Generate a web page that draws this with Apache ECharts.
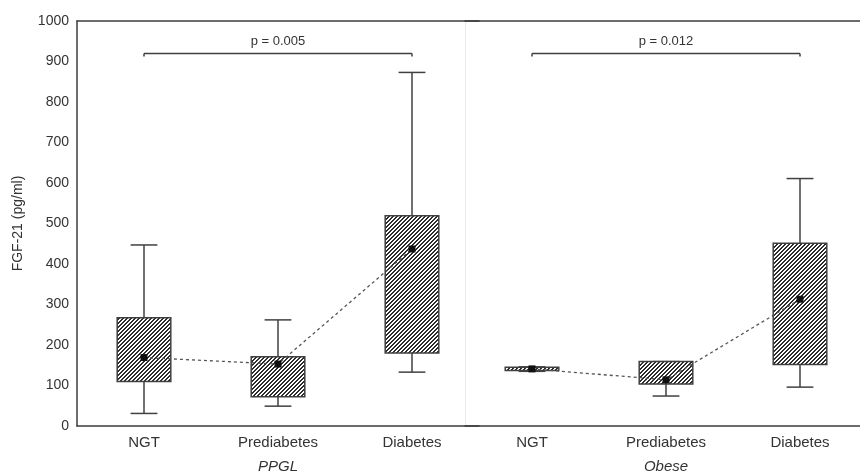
<!DOCTYPE html>
<html>
<head>
<meta charset="utf-8">
<script src="https://cdn.jsdelivr.net/npm/echarts@6/dist/echarts.min.js"></script>
<style>html,body{margin:0;padding:0;background:#fff}#c{width:860px;height:474px}</style>
</head>
<body>
<div id="c"></div>
<script>
const categories = ['NGT', 'Prediabetes', 'Diabetes'];
const groupNames = ['PPGL', 'Obese'];
const yTicks = [0, 100, 200, 300, 400, 500, 600, 700, 800, 900, 1000];
const yAxisName = 'FGF-21 (pg/ml)';

const ppglWhiskerLow  = [31, 49, 133];
const ppglBoxLow      = [110, 72, 180];
const ppglBoxHigh     = [267, 171, 519];
const ppglWhiskerHigh = [447, 262, 873];
const ppglMean        = [169, 153, 437];

const obeseWhiskerLow  = [135, 74, 96];
const obeseBoxLow      = [137, 104, 152];
const obeseBoxHigh     = [145, 159, 451];
const obeseWhiskerHigh = [146, 159, 611];
const obeseMean        = [141, 114, 313];

const pLabels = ['p = 0.005', 'p = 0.012'];
const bracketLevel = [920, 920];
const bracketFrom = ['NGT', 'NGT'];
const bracketTo = ['Diabetes', 'Diabetes'];

// hatch pattern
const hc = document.createElement('canvas');
hc.width = 4; hc.height = 4;
const hx = hc.getContext('2d');
hx.fillStyle = '#ffffff'; hx.fillRect(0, 0, 4, 4);
hx.fillStyle = '#2e2e2e';
for (let x = 0; x < 4; x++) for (let y = 0; y < 4; y++) if ((x + y) % 4 < 2) hx.fillRect(x, y, 1, 1);

const FONT = '"Liberation Sans", Arial, sans-serif';
const TXT = '#333333';
const AX = '#3c3c3c';

const groups = [
  {wl: ppglWhiskerLow, bl: ppglBoxLow, bh: ppglBoxHigh, wh: ppglWhiskerHigh, mean: ppglMean},
  {wl: obeseWhiskerLow, bl: obeseBoxLow, bh: obeseBoxHigh, wh: obeseWhiskerHigh, mean: obeseMean}
];

const grids = [
  {left: 77, top: 21, width: 402, height: 405, outerBoundsMode: 'none', containLabel: false},
  {left: 465, top: 21, width: 402, height: 405, outerBoundsMode: 'none', containLabel: false}
];

const xAxes = [], yAxes = [], series = [];
groups.forEach((g, gi) => {
  xAxes.push({
    type: 'category', gridIndex: gi, data: categories, position: 'bottom',
    name: groupNames[gi], nameLocation: 'middle', nameGap: 33,
    nameTextStyle: {fontFamily: FONT, fontSize: 15, fontStyle: 'italic', color: TXT},
    axisLine: {lineStyle: {color: AX, width: 1.5}},
    axisTick: {inside: true, length: 3, alignWithLabel: true, lineStyle: {color: AX}},
    axisLabel: {fontFamily: FONT, fontSize: 15, color: TXT, margin: 9},
    splitLine: {show: false}
  });
  xAxes.push({
    type: 'category', gridIndex: gi, data: categories, position: 'top',
    axisLine: {lineStyle: {color: AX, width: 1.5}},
    axisTick: {inside: true, length: 3, alignWithLabel: true, lineStyle: {color: AX}},
    axisLabel: {show: false}, splitLine: {show: false}
  });
  yAxes.push({
    type: 'value', gridIndex: gi, min: yTicks[0], max: yTicks[yTicks.length - 1], interval: yTicks[1] - yTicks[0],
    name: gi === 0 ? yAxisName : '', nameLocation: 'middle', nameGap: 52,
    nameTextStyle: {fontFamily: FONT, fontSize: 14, color: TXT},
    axisLine: {show: true, lineStyle: {color: gi === 0 ? AX : '#ececec', width: gi === 0 ? 1.5 : 1}},
    axisTick: {show: false},
    axisLabel: {show: gi === 0, fontFamily: FONT, fontSize: 14, color: TXT, margin: 8,
      formatter: v => String(v)},
    splitLine: {show: false}
  });

  const boxData = categories.map((c, i) => [i, g.wl[i], g.bl[i], g.bh[i], g.wh[i]]);
  series.push({
    type: 'custom', xAxisIndex: gi * 2, yAxisIndex: gi, z: 2,
    data: boxData,
    encode: {x: 0, y: [1, 2, 3, 4]},
    renderItem: (params, api) => {
      const xi = api.value(0);
      const band = api.size([1, 0])[0];
      const bw = band * 0.4, cw = band * 0.2;
      const pWl = api.coord([xi, api.value(1)]);
      const pBl = api.coord([xi, api.value(2)]);
      const pBh = api.coord([xi, api.value(3)]);
      const pWh = api.coord([xi, api.value(4)]);
      const cx = pWl[0];
      const ls = {stroke: '#404040', lineWidth: 1.5};
      return {
        type: 'group',
        children: [
          {type: 'line', shape: {x1: cx, y1: pWl[1], x2: cx, y2: pBl[1]}, style: ls},
          {type: 'line', shape: {x1: cx, y1: pBh[1], x2: cx, y2: pWh[1]}, style: ls},
          {type: 'line', shape: {x1: cx - cw / 2, y1: pWl[1], x2: cx + cw / 2, y2: pWl[1]}, style: ls},
          {type: 'line', shape: {x1: cx - cw / 2, y1: pWh[1], x2: cx + cw / 2, y2: pWh[1]}, style: ls},
          {type: 'rect', shape: {x: cx - bw / 2, y: pBh[1], width: bw, height: Math.max(pBl[1] - pBh[1], 2)},
            style: {fill: {image: hc, repeat: 'repeat'}, stroke: '#404040', lineWidth: 1.5}}
        ]
      };
    }
  });
  series.push({
    type: 'line', xAxisIndex: gi * 2, yAxisIndex: gi, z: 3,
    data: g.mean,
    symbol: 'rect', symbolSize: 7,
    itemStyle: {color: '#111111'},
    lineStyle: {color: '#555555', width: 1.3, type: [3, 3]},
    silent: true
  });
  series.push({
    type: 'custom', xAxisIndex: gi * 2, yAxisIndex: gi, z: 4,
    data: [[categories.indexOf(bracketFrom[gi]), categories.indexOf(bracketTo[gi]), bracketLevel[gi]]],
    encode: {x: [0, 1], y: 2},
    renderItem: (params, api) => {
      const a = api.coord([api.value(0), api.value(2)]);
      const b = api.coord([api.value(1), api.value(2)]);
      const ls = {stroke: '#404040', lineWidth: 1.5};
      return {
        type: 'group',
        children: [
          {type: 'line', shape: {x1: a[0], y1: a[1], x2: b[0], y2: b[1]}, style: ls},
          {type: 'line', shape: {x1: a[0], y1: a[1], x2: a[0], y2: a[1] + 3}, style: ls},
          {type: 'line', shape: {x1: b[0], y1: b[1], x2: b[0], y2: b[1] + 3}, style: ls},
          {type: 'text', x: (a[0] + b[0]) / 2, y: a[1] - 12,
            style: {text: pLabels[gi], fill: TXT, font: '13px ' + FONT, align: 'center', verticalAlign: 'middle'}}
        ]
      };
    }
  });
});

const chart = echarts.init(document.getElementById('c'));
chart.setOption({
  animation: false,
  backgroundColor: '#ffffff',
  grid: grids,
  xAxis: xAxes,
  yAxis: yAxes,
  series: series
});
</script>
</body>
</html>
